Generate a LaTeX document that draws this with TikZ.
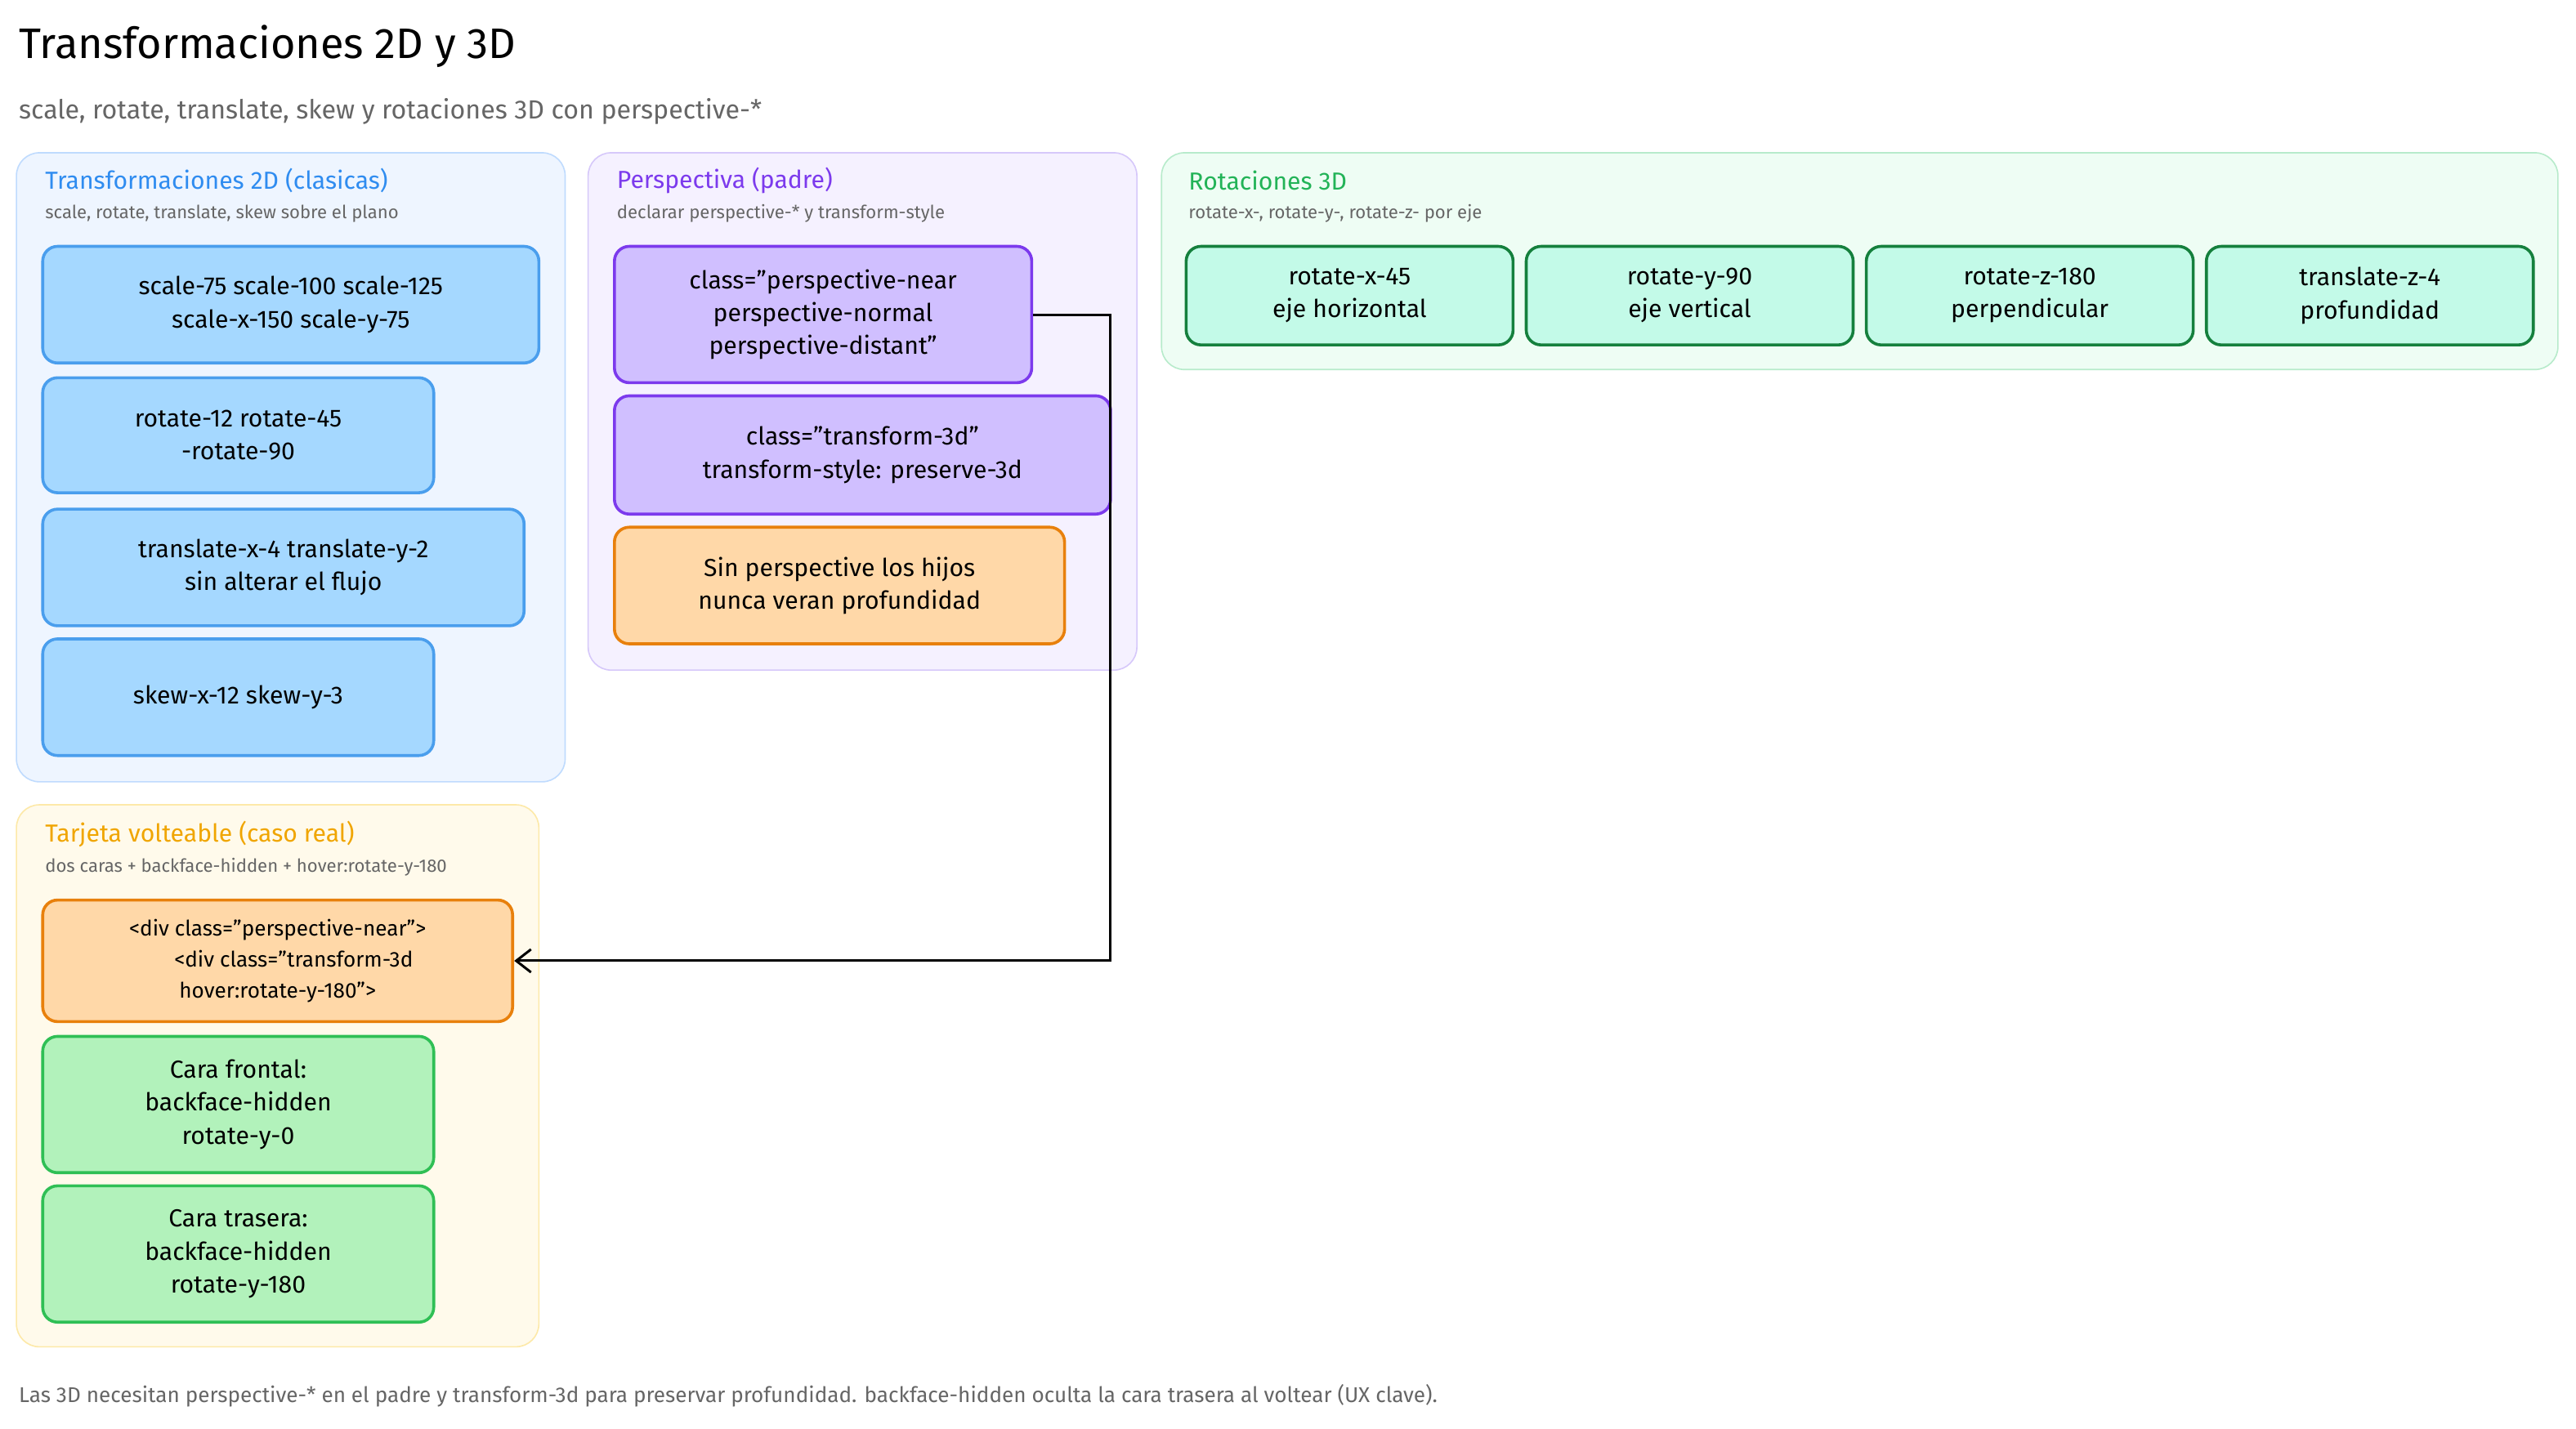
\documentclass[tikz,border=0pt]{standalone}
\usepackage{fontspec}
\setmainfont{Fira Sans}
\usetikzlibrary{arrows.meta}
\definecolor{bgB}{HTML}{EEF5FF}\definecolor{bdB}{HTML}{BFDBFE}
\definecolor{bgP}{HTML}{F5F1FF}\definecolor{bdP}{HTML}{D6C8FA}
\definecolor{bgG}{HTML}{EEFDF4}\definecolor{bdG}{HTML}{B7EBCB}
\definecolor{bgY}{HTML}{FFFAEB}\definecolor{bdY}{HTML}{FDE9A8}
\definecolor{nB}{HTML}{A5D8FF}\definecolor{lB}{HTML}{4A9EED}
\definecolor{nP}{HTML}{D0BFFF}\definecolor{lP}{HTML}{7C3AED}
\definecolor{nO}{HTML}{FFD8A8}\definecolor{lO}{HTML}{E8800C}
\definecolor{nT}{HTML}{C3FAE8}\definecolor{lT}{HTML}{15803D}
\definecolor{nG}{HTML}{B2F2BB}\definecolor{lG}{HTML}{2FBF55}
\definecolor{tB}{HTML}{2F8CF0}\definecolor{tP}{HTML}{7C3AED}
\definecolor{tG}{HTML}{22B357}\definecolor{tY}{HTML}{F0A500}
\definecolor{gr}{HTML}{666666}
\tikzset{
 grp/.style={rounded corners=14pt,line width=0.8pt},
 box/.style={rounded corners=9pt,line width=1.8pt},
 lbl/.style={align=center,font=\fontsize{15}{20}\selectfont,text=black},
 gt/.style={anchor=west,font=\fontsize{15}{18}\selectfont},
 gs/.style={anchor=west,font=\fontsize{11}{14}\selectfont,text=gr},
}
\newcommand{\bx}[7]{\draw[box,fill=#5,draw=#6] (#1,#2) rectangle (#3,#4);
 \node[lbl] (#7) at ({(#1+#3)/2},{(#2+#4)/2}) {};}
\begin{document}
\begin{tikzpicture}[x=1pt,y=-1pt]
\useasboundingbox[fill=white] (0,0) rectangle (1568,870);
\node[anchor=west,font=\fontsize{26}{30}\selectfont] (title) at (8,28) {Transformaciones 2D y 3D};
\node[anchor=west,font=\fontsize{16}{20}\selectfont,text=gr] (sub) at (8,68) {scale, rotate, translate, skew y rotaciones 3D con perspective-*};
% groups
\draw[grp,fill=bgB,draw=bdB] (10,93) rectangle (344,476);
\node[gt,text=tB] (g1t) at (24,110) {Transformaciones 2D (clasicas)};
\node[gs] (g1s) at (24,130) {scale, rotate, translate, skew sobre el plano};
\draw[grp,fill=bgP,draw=bdP] (358,93) rectangle (692,408);
\node[gt,text=tP] (g2t) at (372,110) {Perspectiva (padre)};
\node[gs] (g2s) at (372,130) {declarar perspective-* y transform-style};
\draw[grp,fill=bgG,draw=bdG] (707,93) rectangle (1557,225);
\node[gt,text=tG] (g3t) at (720,110) {Rotaciones 3D};
\node[gs] (g3s) at (720,130) {rotate-x-, rotate-y-, rotate-z- por eje};
\draw[grp,fill=bgY,draw=bdY] (10,490) rectangle (328,820);
\node[gt,text=tY] (g4t) at (24,508) {Tarjeta volteable (caso real)};
\node[gs] (g4s) at (24,528) {dos caras + backface-hidden + hover:rotate-y-180};
% nodes
\draw[box,fill=nB,draw=lB] (26,150) rectangle (328,221);
\node[lbl] (b1) at (177,185.5) {scale-75 scale-100 scale-125\\scale-x-150 scale-y-75};
\draw[box,fill=nB,draw=lB] (26,230) rectangle (264,300);
\node[lbl] (b2) at (145,265) {rotate-12 rotate-45\\-rotate-90};
\draw[box,fill=nB,draw=lB] (26,310) rectangle (319,381);
\node[lbl] (b3) at (172.5,345.5) {translate-x-4 translate-y-2\\sin alterar el flujo};
\draw[box,fill=nB,draw=lB] (26,389) rectangle (264,460);
\node[lbl] (b4) at (145,424.5) {skew-x-12 skew-y-3};
\draw[box,fill=nP,draw=lP] (374,150) rectangle (628,233);
\node[lbl] (p1) at (501,191.5) {class="perspective-near\\perspective-normal\\perspective-distant"};
\draw[box,fill=nP,draw=lP] (374,241) rectangle (676,313);
\node[lbl] (p2) at (525,277) {class="transform-3d"\\transform-style: preserve-3d};
\draw[box,fill=nO,draw=lO] (374,321) rectangle (648,392);
\node[lbl] (p3) at (511,356.5) {Sin perspective los hijos\\nunca veran profundidad};
\foreach \i/\x/\t in {1/722/{rotate-x-45\\eje horizontal},2/929/{rotate-y-90\\eje vertical},3/1136/{rotate-z-180\\perpendicular},4/1343/{translate-z-4\\profundidad}}{
 \draw[box,fill=nT,draw=lT] (\x,150) rectangle (\x+199,210);
 \node[lbl] (r\i) at (\x+99.5,180) {\t};}
\draw[box,fill=nO,draw=lO] (26,548) rectangle (312,622);
\node[lbl,font=\fontsize{13}{19}\selectfont] (c1) at (169,585) {<div class="perspective-near">\\\hspace*{1.5em}<div class="transform-3d\\hover:rotate-y-180">};
\draw[box,fill=nG,draw=lG] (26,631) rectangle (264,714);
\node[lbl] (c2) at (145,672.5) {Cara frontal:\\backface-hidden\\rotate-y-0};
\draw[box,fill=nG,draw=lG] (26,722) rectangle (264,805);
\node[lbl] (c3) at (145,763.5) {Cara trasera:\\backface-hidden\\rotate-y-180};
\coordinate (pr) at (629,192);
\coordinate (cr) at (313,585);
\draw[line width=1.5pt,-{Straight Barb[length=9pt,width=14pt]}] (pr) -- (676,192) -- (676,585) -- (cr);
\node[anchor=west,font=\fontsize{13}{16}\selectfont,text=gr] (foot) at (8,850) {Las 3D necesitan perspective-* en el padre y transform-3d para preservar profundidad. backface-hidden oculta la cara trasera al voltear (UX clave).};
\end{tikzpicture}
\end{document}
